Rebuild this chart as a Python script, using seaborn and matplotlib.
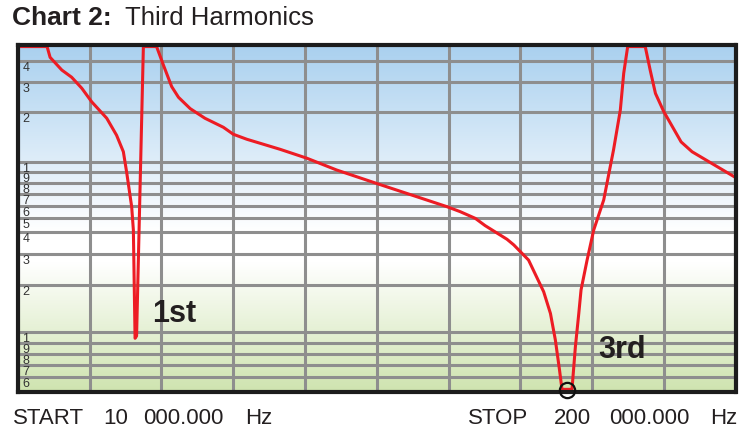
import numpy as np
import pandas as pd
import seaborn as sns
import matplotlib.pyplot as plt
from matplotlib.colors import LinearSegmentedColormap
from matplotlib.ticker import NullLocator

# sweep from START to STOP, frequency in kHz
freq_khz = [10.0, 17.7, 18.5, 21.6, 24.2, 26.9, 29.5, 33.5, 36.1, 37.9, 38.8, 40.1, 40.55, 41.0, 41.4,
            43.2, 46.7, 48.5, 50.7, 52.5, 55.6, 59.5, 64.4, 67.0, 70.6, 79.4, 86.5, 94.4, 105.4,
            123.6, 127.1, 131.1, 133.7, 139.5, 141.3, 145.2, 149.2, 151.0, 152.3, 153.4, 154.05,
            156.7, 157.6, 158.5, 159.1, 160.7, 162.45, 165.1, 167.7, 169.5, 170.4, 171.45, 176.1,
            177.4, 178.8, 181.0, 185.6, 188.5, 200.0]
level = [48.6, 48.6, 41.9, 35.2, 31.9, 27.5, 23.0, 18.4, 14.5, 11.5, 8.88, 5.91, 4.14, 0.939, 0.960,
         48.6, 48.6, 37.7, 28.1, 24.4, 21.0, 18.4, 16.2, 14.7, 13.7, 11.9, 10.5, 9.16, 7.88,
         5.91, 5.48, 4.95, 4.43, 3.65, 3.39, 2.78, 1.81, 1.31, 0.923, 0.655, 0.487,
         0.487, 0.863, 1.31, 1.86, 2.78, 4.14, 6.47, 11.8, 20.6, 33.7, 48.6, 48.6,
         35.2, 25.7, 20.2, 13.2, 11.5, 8.46]

y_tick_values = [0.6, 0.7, 0.8, 0.9, 1, 2, 3, 4, 5, 6, 7, 8, 9, 10, 20, 30, 40]
y_tick_labels = ["6", "7", "8", "9", "1", "2", "3", "4", "5", "6", "7", "8", "9", "1", "2", "3", "4"]
x_ticks = [10, 29, 48, 67, 86, 105, 124, 143, 162, 181, 200]

# the printed graticule is not a true log grid: knots of its vertical scale
scale_vals = [0.47, 0.6, 0.7, 0.8, 0.9, 1, 2, 3, 4, 5, 6, 7, 8, 9, 10, 20, 30, 40, 50]
scale_pos = [0, 14.8, 26.5, 37.5, 48.8, 59.8, 106.5, 137.2, 159.2, 173.8, 185.8, 197.5,
             208.8, 219.8, 229.8, 279.2, 309.8, 330.8, 347]

# marked minimum of the 3rd harmonic
circle_f, circle_level = 155.4, 0.478

sns.set_style("white")
plt.rcParams["font.family"] = ["Liberation Sans", "DejaVu Sans"]

log_knots = np.log10(scale_vals)


def forward(v):
    v = np.clip(np.asarray(v, dtype=float), 1e-6, None)
    return np.interp(np.log10(v), log_knots, scale_pos)


def inverse(h):
    return 10 ** np.interp(np.asarray(h, dtype=float), scale_pos, log_knots)


df = pd.DataFrame({"freq": freq_khz, "level": level})

fig = plt.figure(figsize=(7.54, 4.32), dpi=100)
ax = fig.add_axes([18 / 754, 1 - 391.5 / 432, 717.5 / 754, 347 / 432])

# background gradient: green at bottom, white in the middle, blue at top
cmap = LinearSegmentedColormap.from_list(
    "bg", [(0.0, "#cfe4b0"), (0.37, "#ffffff"), (0.46, "#ffffff"), (1.0, "#a9d0ef")])
grad = np.linspace(0, 1, 256).reshape(-1, 1)
ax.imshow(grad, extent=[0, 1, 0, 1], transform=ax.transAxes, origin="lower",
          aspect="auto", cmap=cmap, zorder=0)

ax.set_yscale("function", functions=(forward, inverse))

sns.lineplot(data=df, x="freq", y="level", sort=False, estimator=None,
             color="#ed1c24", linewidth=2.2, ax=ax, zorder=2)

ax.plot([circle_f], [circle_level], marker="o", markersize=11, markerfacecolor="none",
        markeredgecolor="#111111", markeredgewidth=1.6, clip_on=False, zorder=4)

ax.set_xlim(10, 200)
ax.set_ylim(0.47, 50)
ax.set_xticks(x_ticks)
ax.set_yticks(y_tick_values)
ax.yaxis.set_minor_locator(NullLocator())
ax.set_xticklabels([])
ax.set_yticklabels([])
ax.tick_params(length=0)
ax.set_xlabel("")
ax.set_ylabel("")
ax.set_axisbelow(True)
ax.grid(True, color="#8e8e8e", linewidth=2.2)

for s in ax.spines.values():
    s.set_visible(True)
    s.set_color("#1c1c1c")
    s.set_linewidth(3)

# tick labels drawn inside the plot
for v, lab in zip(y_tick_values, y_tick_labels):
    ax.annotate(lab, xy=(0.006, v), xycoords=("axes fraction", "data"),
                xytext=(0, -0.8), textcoords="offset points",
                ha="left", va="top", fontsize=9, color="#333333")

ax.text(45.5, 1.31, "1st", fontsize=22, fontweight="bold", color="#231f20", va="center", ha="left")
ax.text(163.6, 0.834, "3rd", fontsize=22, fontweight="bold", color="#231f20", va="center", ha="left")

# title
t1 = fig.text(12 / 754, 1 - 18 / 432, "Chart 2:", fontsize=19, fontweight="bold",
              color="#231f20", va="center", ha="left")
fig.canvas.draw()
bb = t1.get_window_extent()
fig.text((bb.x1 + 13) / 754, 1 - 18 / 432, "Third Harmonics", fontsize=18.5,
         color="#231f20", va="center", ha="left")

# sweep labels
for x_px, word in [(13, "START"), (103, "10"), (143, "000.000"), (245, "Hz"),
                   (468, "STOP"), (554, "200"), (609, "000.000"), (710, "Hz")]:
    fig.text(x_px / 754, 1 - 418 / 432, word, fontsize=16, color="#231f20",
             va="center", ha="left")

fig.savefig("out.png", dpi=100)
